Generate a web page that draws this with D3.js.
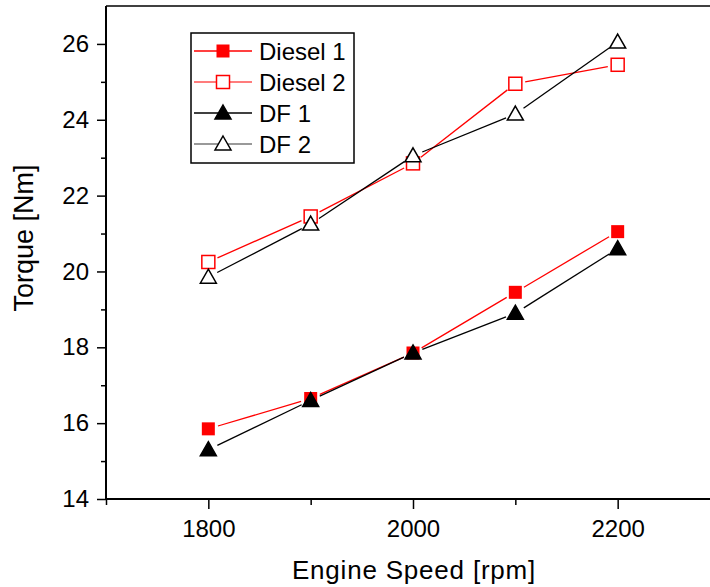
<!DOCTYPE html>
<html>
<head>
<meta charset="utf-8">
<script src="https://cdn.jsdelivr.net/npm/d3@7"></script>
<style>
  body { margin: 0; background: #fff; }
  svg text { font-family: Arial, "Liberation Sans", sans-serif; }
</style>
</head>
<body>
<div id="chart"></div>
<script>
// dados
var rpm = [1800, 1900, 2000, 2100, 2200];
var diesel1 = [15.85, 16.65, 17.85, 19.45, 21.05];
var diesel2 = [20.25, 21.45, 22.85, 24.95, 25.45];
var df1 = [15.3, 16.6, 17.85, 18.9, 20.6];
var df2 = [19.85, 21.25, 23.05, 24.15, 26.05];
var xTicks = [1800, 2000, 2200];
var xMinor = [1700, 1900, 2100];
var yTicks = [14, 16, 18, 20, 22, 24, 26];
var yMinor = [15, 17, 19, 21, 23, 25];

var series = [
    { name: "Diesel 1", values: diesel1, color: "#ff0000", legendLine: "#ff0000", shape: "square", filled: true },
    { name: "Diesel 2", values: diesel2, color: "#ff0000", legendLine: "#ff5050", shape: "square", filled: false },
    { name: "DF 1", values: df1, color: "#000000", legendLine: "#000000", shape: "triangle", filled: true },
    { name: "DF 2", values: df2, color: "#000000", legendLine: "#777777", shape: "triangle", filled: false }
];

var W = 710, H = 587;
var m = { left: 106, top: 6, bottom: 499 };

var svg = d3.select("#chart").append("svg")
    .attr("width", W)
    .attr("height", H);

var x = d3.scaleLinear().domain([1700, 2300]).range([m.left, m.left + 614]);
var y = d3.scaleLinear().domain([14, 27]).range([m.bottom, m.top]);

// eixos
svg.append("g")
    .attr("transform", "translate(0," + m.bottom + ")")
    .call(d3.axisBottom(x).tickValues(xTicks).tickSize(10).tickPadding(11).tickFormat(d3.format("d")));
svg.append("g")
    .attr("transform", "translate(0," + m.bottom + ")")
    .call(d3.axisBottom(x).tickValues(xMinor).tickSize(6).tickFormat(""));

svg.append("g")
    .attr("transform", "translate(" + m.left + ",0)")
    .call(d3.axisLeft(y).tickValues(yTicks).tickSize(9).tickPadding(8).tickFormat(d3.format("d")));
svg.append("g")
    .attr("transform", "translate(" + m.left + ",0)")
    .call(d3.axisLeft(y).tickValues(yMinor).tickSize(5).tickFormat(""));

svg.selectAll(".domain").remove();
svg.selectAll(".tick line").attr("stroke", "#000").attr("stroke-width", 1.5);
svg.selectAll(".tick text").attr("fill", "#000").style("font-size", "24px");

// moldura
svg.append("line").attr("x1", m.left).attr("x2", W).attr("y1", m.bottom).attr("y2", m.bottom)
    .attr("stroke", "#000").attr("stroke-width", 2);
svg.append("line").attr("x1", m.left).attr("x2", m.left).attr("y1", m.top).attr("y2", m.bottom)
    .attr("stroke", "#000").attr("stroke-width", 2);
svg.append("line").attr("x1", m.left).attr("x2", W).attr("y1", m.top).attr("y2", m.top)
    .attr("stroke", "#000").attr("stroke-width", 1.5);

// títulos
svg.append("text")
    .attr("x", 414).attr("y", 579)
    .attr("text-anchor", "middle")
    .style("font-size", "26px")
    .style("letter-spacing", "0.8px")
    .text("Engine Speed [rpm]");
svg.append("text")
    .attr("transform", "translate(33,238) rotate(-90)")
    .attr("text-anchor", "middle")
    .style("font-size", "27px")
    .text("Torque [Nm]");

function drawMarker(g, shape, filled, color, cx, cy) {
    if (shape === "square") {
        g.append("rect")
            .attr("x", cx - 6.5).attr("y", cy - 6.5)
            .attr("width", 13).attr("height", 13)
            .attr("fill", filled ? color : "#fff")
            .attr("stroke", color).attr("stroke-width", filled ? 0 : 1.5);
    } else {
        g.append("path")
            .attr("d", "M" + cx + "," + (cy - 8) + "L" + (cx + 8) + "," + (cy + 6) + "L" + (cx - 8) + "," + (cy + 6) + "Z")
            .attr("fill", filled ? color : "#fff")
            .attr("stroke", color).attr("stroke-width", 1.5);
    }
}

// linhas com espaço em volta dos marcadores
var gap = 10;
series.forEach(function (s) {
    var g = svg.append("g");
    for (var i = 0; i < rpm.length - 1; i++) {
        var x1 = x(rpm[i]), y1 = y(s.values[i]);
        var x2 = x(rpm[i + 1]), y2 = y(s.values[i + 1]);
        var len = Math.hypot(x2 - x1, y2 - y1);
        var ux = (x2 - x1) / len, uy = (y2 - y1) / len;
        g.append("line")
            .attr("x1", x1 + ux * gap).attr("y1", y1 + uy * gap)
            .attr("x2", x2 - ux * gap).attr("y2", y2 - uy * gap)
            .attr("stroke", s.color).attr("stroke-width", 1.3);
    }
    rpm.forEach(function (r, i) {
        drawMarker(g, s.shape, s.filled, s.color, x(r), y(s.values[i]));
    });
});

// legenda
var legend = svg.append("g");
legend.append("rect")
    .attr("x", 191).attr("y", 33)
    .attr("width", 163).attr("height", 130)
    .attr("fill", "#fff").attr("stroke", "#000").attr("stroke-width", 1.5);
series.forEach(function (s, i) {
    var ly = 51 + i * 31;
    legend.append("line")
        .attr("x1", 194).attr("x2", 252).attr("y1", ly).attr("y2", ly)
        .attr("stroke", s.legendLine).attr("stroke-width", 1.5);
    drawMarker(legend, s.shape, s.filled, s.color, 223, ly);
    legend.append("text")
        .attr("x", 259).attr("y", ly + 8.5)
        .style("font-size", "24px")
        .text(s.name);
});
</script>
</body>
</html>
